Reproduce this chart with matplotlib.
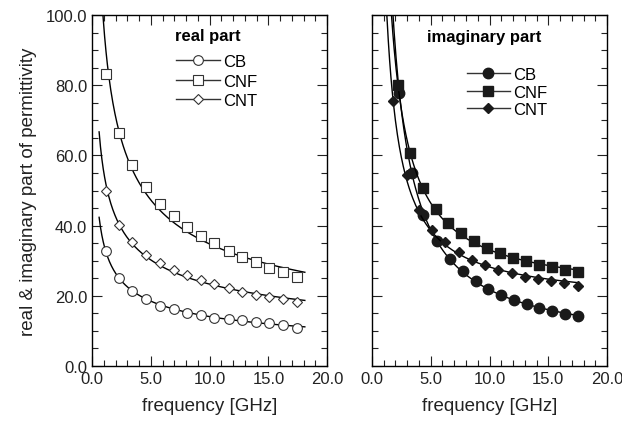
import numpy as np
import matplotlib
matplotlib.use("Agg")
import matplotlib.pyplot as plt
from matplotlib.ticker import MultipleLocator, FormatStrFormatter

plt.rcParams['font.family'] = ['Liberation Sans', 'DejaVu Sans']

# real part (open symbols)
f_real = np.array([1.17, 2.30, 3.43, 4.62, 5.79, 6.98, 8.09, 9.28, 10.41, 11.63, 12.77, 13.93, 15.09, 16.23, 17.42])
cb_real = np.array([32.7, 25.1, 21.4, 19.1, 17.2, 16.1, 15.1, 14.4, 13.8, 13.5, 13.1, 12.6, 12.2, 11.6, 10.9])
cnf_real = np.array([83.1, 66.4, 57.3, 50.9, 46.2, 42.8, 39.5, 37.1, 35.0, 32.9, 31.1, 29.5, 27.9, 26.7, 25.5])
cnt_real = np.array([49.8, 40.2, 35.2, 31.7, 29.3, 27.4, 25.8, 24.5, 23.3, 22.1, 21.2, 20.3, 19.7, 19.0, 18.3])

# imaginary part (filled symbols)
f_cb_im = np.array([2.33, 3.43, 4.37, 5.51, 6.64, 7.75, 8.83, 9.91, 11.0, 12.1, 13.2, 14.25, 15.3, 16.4, 17.5])
cb_im = np.array([77.7, 54.9, 43.0, 35.7, 30.5, 27.1, 24.2, 21.9, 20.2, 18.8, 17.6, 16.6, 15.7, 14.8, 14.2])
f_cnf_im = np.array([2.19, 3.24, 4.37, 5.45, 6.5, 7.6, 8.7, 9.8, 10.9, 12.0, 13.1, 14.2, 15.3, 16.4, 17.5])
cnf_im = np.array([80.1, 60.7, 50.8, 44.7, 40.7, 37.8, 35.5, 33.5, 32.1, 30.7, 29.8, 28.8, 28.1, 27.4, 26.9])
f_cnt_im = np.array([1.76, 2.95, 4.03, 5.08, 6.25, 7.38, 8.55, 9.6, 10.7, 11.9, 13.0, 14.1, 15.2, 16.35, 17.5])
cnt_im = np.array([75.6, 54.4, 44.4, 38.8, 35.2, 32.4, 30.2, 28.8, 27.4, 26.5, 25.5, 24.8, 24.2, 23.6, 22.9])

names = ['CB', 'CNF', 'CNT']
markers = ['o', 's', 'D']
ms_open = [7, 7.5, 5.5]
ms_fill = [7.5, 7.5, 5.5]

fig = plt.figure(figsize=(6.22, 4.27), dpi=100)
ax1 = fig.add_axes([0.148, 0.1405, 0.378, 0.822])
ax2 = fig.add_axes([0.598, 0.1405, 0.378, 0.822])

# real part: power-law fits
xx = np.linspace(0.6, 18.1, 300)
for y, m, ms, n in zip([cb_real, cnf_real, cnt_real], markers, ms_open, names):
    c = np.polyfit(np.log(f_real), np.log(y), 1)
    ax1.plot(xx, np.exp(np.polyval(c, np.log(xx))), color='black', lw=1.0)
    ax1.plot(f_real, y, linestyle='none', marker=m, ms=ms, mfc='white', mec='#333333', mew=0.8)
    ax1.plot([], [], color='#333333', lw=1.0, marker=m, ms=ms, mfc='white', mec='#333333', mew=0.8, label=n)

# imaginary part: a + b/f fits
xx2 = np.linspace(1.0, 17.6, 300)
for fx, y, m, ms, n in zip([f_cb_im, f_cnf_im, f_cnt_im], [cb_im, cnf_im, cnt_im], markers, ms_fill, names):
    c = np.polyfit(1.0 / fx, y, 1)
    ax2.plot(xx2, np.polyval(c, 1.0 / xx2), color='black', lw=1.0)
    ax2.plot(fx, y, linestyle='none', marker=m, ms=ms, color='#1a1a1a')
    ax2.plot([], [], color='#333333', lw=1.0, marker=m, ms=ms, mfc='#1a1a1a', mec='#1a1a1a', label=n)

for ax in (ax1, ax2):
    ax.set_xlim(0, 20)
    ax.set_ylim(0, 100)
    ax.xaxis.set_major_locator(MultipleLocator(5))
    ax.xaxis.set_minor_locator(MultipleLocator(1))
    ax.yaxis.set_major_locator(MultipleLocator(20))
    ax.yaxis.set_minor_locator(MultipleLocator(5))
    ax.xaxis.set_major_formatter(FormatStrFormatter('%.1f'))
    ax.yaxis.set_major_formatter(FormatStrFormatter('%.1f'))
    ax.tick_params(which='both', direction='in', top=True, right=True, labelsize=12, colors='#222222')
    ax.tick_params(which='major', length=7, width=0.8)
    ax.tick_params(which='minor', length=4, width=0.8)
    for s in ax.spines.values():
        s.set_linewidth(1.0)
    ax.set_xlabel('frequency [GHz]', fontsize=13.5, color='#222222', labelpad=8)

ax2.tick_params(labelleft=False)
ax1.set_ylabel('real & imaginary part of permittivity', fontsize=13.5, color='#222222', labelpad=6)

ax1.text(0.353, 0.943, 'real part', transform=ax1.transAxes, fontsize=12,
         fontweight='bold', va='center', ha='left')
ax1.legend(loc='upper left', bbox_to_anchor=(0.33, 0.908), frameon=False, fontsize=12,
           handlelength=2.6, handletextpad=0.2, labelspacing=0.28, borderaxespad=0)

ax2.text(0.234, 0.94, 'imaginary part', transform=ax2.transAxes, fontsize=12,
         fontweight='bold', va='center', ha='left')
ax2.legend(loc='upper left', bbox_to_anchor=(0.375, 0.87), frameon=False, fontsize=12,
           handlelength=2.6, handletextpad=0.2, labelspacing=0.15, borderaxespad=0)

fig.savefig('out.png', dpi=100)
